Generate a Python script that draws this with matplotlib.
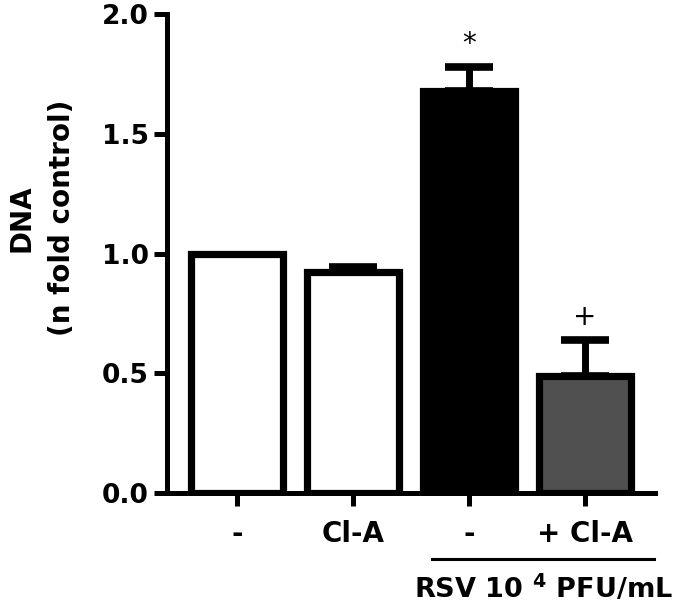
import matplotlib
matplotlib.use("Agg")
import matplotlib.pyplot as plt

plt.rcParams["font.family"] = ["DejaVu Sans"]
plt.rcParams["font.weight"] = "bold"
plt.rcParams["mathtext.fontset"] = "custom"
plt.rcParams["mathtext.rm"] = "DejaVu Sans:bold"
plt.rcParams["mathtext.bf"] = "DejaVu Sans:bold"

labels = ["-", "Cl-A", "-", "+ Cl-A"]
values = [1.00, 0.925, 1.68, 0.49]
errors = [0.0, 0.02, 0.10, 0.15]
colors = ["white", "white", "black", "#505050"]
marks = ["", "", "*", "+"]

fig = plt.figure(figsize=(6.85, 6.03), dpi=100)
ax = fig.add_axes([0.244, 0.182, 0.712, 0.795])

x = list(range(len(values)))
ax.bar(x, values, width=0.79, color=colors, edgecolor="black",
       linewidth=5.2, zorder=3)

# only upper error bars, skip the control (no error)
ex = [xi for xi, e in zip(x, errors) if e > 0]
ev = [v for v, e in zip(values, errors) if e > 0]
ee = [e for e in errors if e > 0]
ax.errorbar(ex, ev, yerr=[[0] * len(ee), ee], fmt="none",
            ecolor="black", elinewidth=5, capsize=17, capthick=5.5,
            zorder=2)

for xi, v, e, m in zip(x, values, errors, marks):
    if m:
        ax.text(xi, v + e + 0.095, m, ha="center", va="center",
                fontsize=20, fontweight="normal")

ax.set_xlim(-0.6, 3.6)
ax.set_ylim(0, 2.0)
ax.set_yticks([0.0, 0.5, 1.0, 1.5, 2.0])
ax.set_yticklabels(["0.0", "0.5", "1.0", "1.5", "2.0"])
ax.set_xticks(x)
ax.set_xticklabels(labels)

for s in ["top", "right"]:
    ax.spines[s].set_visible(False)
for s in ["left", "bottom"]:
    ax.spines[s].set_linewidth(3.6)
ax.tick_params(axis="both", width=3.6, length=9.5, labelsize=19)
ax.tick_params(axis="x", pad=10, labelsize=20)
ax.tick_params(axis="y", pad=3.5)

fig.text(0.061, 0.638, "DNA\n(n fold control)", rotation=90,
         ha="center", va="center", multialignment="center",
         fontsize=20, fontweight="bold", linespacing=1.6)

# RSV group bracket
ax.plot([1.685, 3.59], [-0.275, -0.275], color="black", lw=2.2,
        clip_on=False)
ax.text(2.64, -0.435, r"RSV 10 $^{4}$ PFU/mL", ha="center", va="baseline",
        fontsize=19.5, fontweight="bold")

fig.savefig("out.png", dpi=100)
